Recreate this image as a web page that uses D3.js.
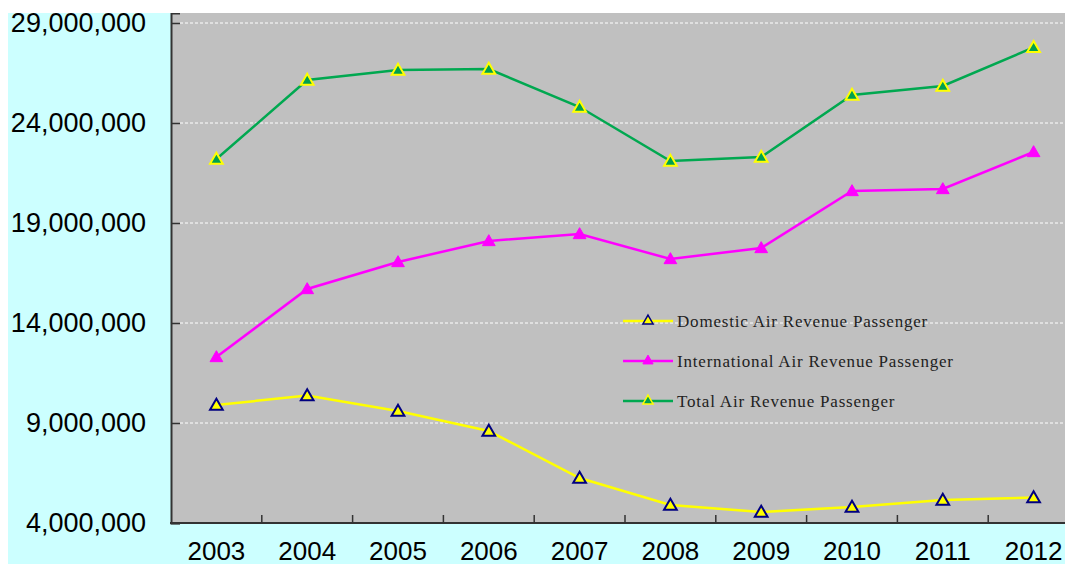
<!DOCTYPE html>
<html>
<head>
<meta charset="utf-8">
<script src="https://cdn.jsdelivr.net/npm/d3@7"></script>
<style>
  body { margin: 0; background: #fff; }
  svg { display: block; }
</style>
</head>
<body>
<div id="app"></div>
<script>
const years = ["2003", "2004", "2005", "2006", "2007", "2008", "2009", "2010", "2011", "2012"];
const domestic = [9900000, 10370000, 9600000, 8600000, 6250000, 4900000, 4550000, 4800000, 5150000, 5270000];
const international = [12300000, 15700000, 17050000, 18100000, 18450000, 17200000, 17750000, 20600000, 20700000, 22550000];
const total = [22200000, 26150000, 26650000, 26700000, 24800000, 22100000, 22300000, 25400000, 25850000, 27780000];
const yTicks = [4000000, 9000000, 14000000, 19000000, 24000000, 29000000];
const seriesNames = ["Domestic Air Revenue Passenger", "International Air Revenue Passenger", "Total Air Revenue Passenger"];

const width = 1065;
const height = 568;

const svg = d3.select("#app").append("svg").attr("width", width).attr("height", height);

// outer chart area (cropped in the reference)
svg.append("clipPath").attr("id", "frame")
  .append("rect").attr("x", 8).attr("y", 13).attr("width", width - 8).attr("height", 551);

const g = svg.append("g").attr("clip-path", "url(#frame)");

g.append("rect").attr("x", 8).attr("y", 13).attr("width", width - 8).attr("height", 555).attr("fill", "#ccffff");

const plot = { left: 171, right: 1079, top: 13, bottom: 523 };

const x = d3.scaleBand().domain(years).range([plot.left, plot.right]);
const y = d3.scaleLinear().domain([4000000, 29500000]).range([plot.bottom, plot.top]);
const cx = (d) => x(d) + x.bandwidth() / 2;

g.append("rect")
  .attr("x", plot.left).attr("y", plot.top)
  .attr("width", plot.right - plot.left).attr("height", plot.bottom - plot.top)
  .attr("fill", "#c0c0c0");

// gridlines
g.append("g")
  .selectAll("line")
  .data(yTicks.slice(1))
  .join("line")
  .attr("x1", plot.left + 9).attr("x2", plot.right)
  .attr("y1", (d) => y(d)).attr("y2", (d) => y(d))
  .attr("stroke", "#fff").attr("stroke-width", 1).attr("stroke-dasharray", "3,2");

// y axis
const yAxis = g.append("g")
  .attr("transform", `translate(${plot.left},0)`)
  .call(d3.axisLeft(y).tickValues(yTicks).tickFormat(d3.format(",")).tickSize(-9).tickPadding(25));
yAxis.select(".domain").attr("stroke", "#333").attr("stroke-width", 2);
yAxis.selectAll(".tick line").attr("stroke", "#333").attr("stroke-width", 1.5);
yAxis.selectAll("text")
  .attr("font-family", "'Liberation Sans', Arial, sans-serif")
  .attr("font-size", 27).attr("fill", "#000");

// x axis labels (not clipped so they stay readable)
const xAxis = svg.append("g")
  .attr("transform", `translate(0,${plot.bottom})`)
  .call(d3.axisBottom(x).tickSize(0).tickPadding(19));
xAxis.select(".domain").remove();
xAxis.selectAll("text")
  .attr("font-family", "'Liberation Sans', Arial, sans-serif")
  .attr("font-size", 26).attr("fill", "#000");

g.append("line")
  .attr("x1", plot.left - 1).attr("x2", plot.right)
  .attr("y1", plot.bottom).attr("y2", plot.bottom)
  .attr("stroke", "#333").attr("stroke-width", 2);

// category boundary ticks
g.append("g")
  .selectAll("line")
  .data(years.slice(1).concat(["end"]))
  .join("line")
  .attr("x1", (d, i) => plot.left + (i + 1) * x.bandwidth())
  .attr("x2", (d, i) => plot.left + (i + 1) * x.bandwidth())
  .attr("y1", plot.bottom).attr("y2", plot.bottom - 8)
  .attr("stroke", "#333").attr("stroke-width", 1.5);

const series = [
  { name: seriesNames[0], values: domestic, line: "#ffff00", fill: "#ffff00", stroke: "#000080", sw: 2 },
  { name: seriesNames[1], values: international, line: "#ff00ff", fill: "#ff00ff", stroke: "#ff00ff", sw: 1 },
  { name: seriesNames[2], values: total, line: "#00a850", fill: "#00a050", stroke: "#ffff00", sw: 2 },
];

const tri = d3.symbol().type(d3.symbolTriangle).size(70);
const line = d3.line().x((d, i) => cx(years[i])).y((d) => y(d));

series.forEach((s) => {
  g.append("path")
    .datum(s.values)
    .attr("d", line)
    .attr("fill", "none")
    .attr("stroke", s.line)
    .attr("stroke-width", 2.5);

  g.append("g")
    .selectAll("path")
    .data(s.values)
    .join("path")
    .attr("d", tri)
    .attr("transform", (d, i) => `translate(${cx(years[i])},${y(d) + 1})`)
    .attr("fill", s.fill)
    .attr("stroke", s.stroke)
    .attr("stroke-width", s.sw);
});

// legend
const legend = g.append("g").attr("transform", "translate(623,321)");
series.forEach((s, i) => {
  const row = legend.append("g").attr("transform", `translate(0,${i * 40})`);
  row.append("line").attr("x1", 0).attr("x2", 50).attr("y1", 0).attr("y2", 0)
    .attr("stroke", s.line).attr("stroke-width", 2.5);
  row.append("path").attr("d", d3.symbol().type(d3.symbolTriangle).size(45))
    .attr("transform", "translate(25,0)")
    .attr("fill", s.fill).attr("stroke", s.stroke).attr("stroke-width", s.sw === 1 ? 1 : 1.5);
  row.append("text").attr("x", 54).attr("y", 6)
    .attr("font-family", "'Liberation Serif', 'Times New Roman', serif")
    .attr("font-size", 17).attr("letter-spacing", 0.8).attr("fill", "#222")
    .text(s.name);
});
</script>
</body>
</html>
